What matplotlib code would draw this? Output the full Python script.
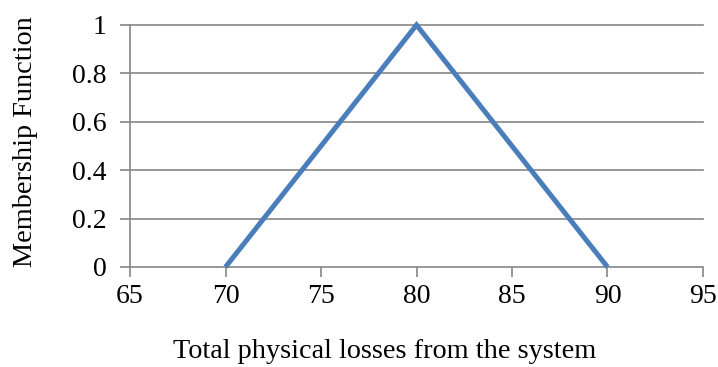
import matplotlib
matplotlib.use("Agg")
import matplotlib.pyplot as plt

# Triangular membership function
x_values = [70, 80, 90]
membership = [0, 1, 0]
x_ticks = [65, 70, 75, 80, 85, 90, 95]
y_ticks = [0, 0.2, 0.4, 0.6, 0.8, 1]
y_tick_labels = ["0", "0.2", "0.4", "0.6", "0.8", "1"]

plt.rcParams["font.family"] = ["Liberation Serif", "DejaVu Serif"]

fig = plt.figure(figsize=(7.18, 3.67), dpi=100)
ax = fig.add_axes([0.1811, 0.2725, 0.7980, 0.6594])

grid_color = "#868686"
ax.plot(x_values, membership, color="#4A7EBB", linewidth=3.6,
        solid_capstyle="butt", solid_joinstyle="miter", zorder=3, clip_on=False)

ax.set_xlim(65, 95)
ax.set_ylim(0, 1)
ax.set_xticks(x_ticks)
ax.set_xticklabels([str(t) for t in x_ticks])
ax.set_yticks(y_ticks)
ax.set_yticklabels(y_tick_labels)

for y in y_ticks[1:]:
    ax.axhline(y, color=grid_color, linewidth=1.2, zorder=1, clip_on=False)

for side in ("top", "right"):
    ax.spines[side].set_visible(False)
for side in ("left", "bottom"):
    ax.spines[side].set_color(grid_color)
    ax.spines[side].set_linewidth(1.2)

ax.tick_params(axis="both", colors=grid_color, labelcolor="black",
               labelsize=20, width=1.2)
ax.tick_params(axis="x", length=7, direction="out", pad=5)
ax.tick_params(axis="y", length=7, direction="out", pad=10)

ax.set_xlabel("Total physical losses from the system", fontsize=20.3, va="center")
ax.set_ylabel("Membership Function", fontsize=20.3, va="center")
ax.xaxis.set_label_coords(0.445, -0.35)
ax.yaxis.set_label_coords(-0.183, 0.52)

fig.savefig("out.png", dpi=100)
